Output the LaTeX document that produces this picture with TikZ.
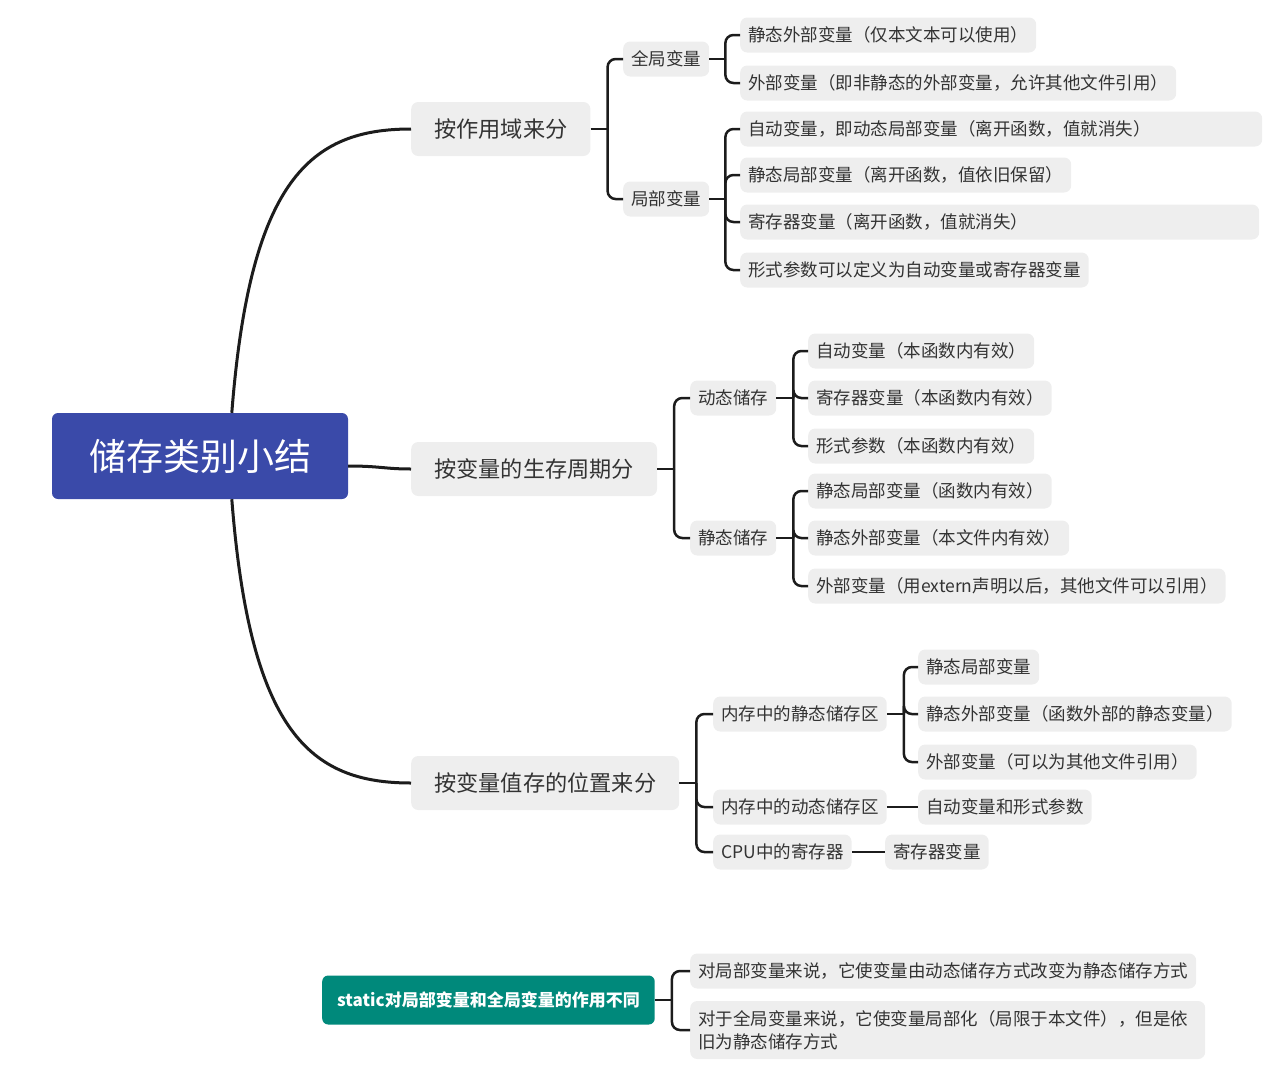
\documentclass[tikz,border=0pt]{standalone}
\usepackage{fontspec}
\setmainfont{Noto Sans CJK SC}
\usetikzlibrary{calc}
\definecolor{rootblue}{HTML}{3A4AA9}
\definecolor{notegreen}{HTML}{00897B}
\definecolor{boxgray}{HTML}{EEEEEE}
\definecolor{inkgray}{HTML}{333333}
\definecolor{linegray}{HTML}{1C1C1C}

\begin{document}
\begin{tikzpicture}[x=1pt, y=-1pt,
    leaf/.style={fill=boxgray, text=inkgray, rounded corners=7pt, inner xsep=8pt, inner ysep=0pt,
      minimum height=35pt, anchor=west, font=\fontsize{17.5}{20}\selectfont},
    topic/.style={leaf, inner xsep=23pt, minimum height=54pt, font=\fontsize{22.2}{26}\selectfont},
    rootnode/.style={fill=rootblue, text=white, rounded corners=6pt, minimum width=296pt,
      minimum height=86pt, font=\fontsize{37}{40}\selectfont},
    note/.style={fill=notegreen, text=white, rounded corners=6pt, inner xsep=15pt,
      minimum height=49pt, anchor=west, font=\bfseries\fontsize{17}{19}\selectfont},
    link/.style={draw=linegray, line width=2.5pt, rounded corners=8pt},
    curve/.style={draw=linegray, line width=3pt}]
        \useasboundingbox (0,0) rectangle (1278,1077);

        \node[rootnode] (root) at (200,456) {储存类别小结};
        \node[topic] (scope) at (411,129) {按作用域来分};
        \node[topic] (life) at (411,469) {按变量的生存周期分};
        \node[topic] (place) at (411,783) {按变量值存的位置来分};

        % by scope
        \node[leaf] (glob) at (623,59) {全局变量};
        \node[leaf] (loc) at (623,199) {局部变量};
        \node[leaf] (glob1) at (740,35) {静态外部变量（仅本文本可以使用）};
        \node[leaf] (glob2) at (740,83) {外部变量（即非静态的外部变量，允许其他文件引用）};
        \node[leaf, text width=506pt, align=left] (loc1) at (740,129) {自动变量，即动态局部变量（离开函数，值就消失）};
        \node[leaf] (loc2) at (740,175) {静态局部变量（离开函数，值依旧保留）};
        \node[leaf, text width=503pt, align=left] (loc3) at (740,222) {寄存器变量（离开函数，值就消失）};
        \node[leaf] (loc4) at (740,270) {形式参数可以定义为自动变量或寄存器变量};

        % by lifetime
        \node[leaf] (dyn) at (690,398) {动态储存};
        \node[leaf] (stat) at (690,538) {静态储存};
        \node[leaf] (dyn1) at (808,351) {自动变量（本函数内有效）};
        \node[leaf] (dyn2) at (808,398) {寄存器变量（本函数内有效）};
        \node[leaf] (dyn3) at (808,446) {形式参数（本函数内有效）};
        \node[leaf] (stat1) at (808,491) {静态局部变量（函数内有效）};
        \node[leaf] (stat2) at (808,538) {静态外部变量（本文件内有效）};
        \node[leaf] (stat3) at (808,586) {外部变量（用extern声明以后，其他文件可以引用）};

        % by place
        \node[leaf] (mstat) at (713,714) {内存中的静态储存区};
        \node[leaf] (mdyn) at (713,807) {内存中的动态储存区};
        \node[leaf] (cpu) at (713,852) {CPU中的寄存器};
        \node[leaf] (mstat1) at (918,667) {静态局部变量};
        \node[leaf] (mstat2) at (918,714) {静态外部变量（函数外部的静态变量）};
        \node[leaf] (mstat3) at (918,762) {外部变量（可以为其他文件引用）};
        \node[leaf] (mdyn1) at (918,807) {自动变量和形式参数};
        \node[leaf] (cpu1) at (885,852) {寄存器变量};

        % static note
        \node[note] (static) at (322,1000) {static对局部变量和全局变量的作用不同};
        \node[leaf] (note1) at (690,971) {对局部变量来说，它使变量由动态储存方式改变为静态储存方式};
        \node[leaf, text width=499pt, align=left, minimum height=58pt, font=\fontsize{17.5}{23}\selectfont] (note2)
          at (690,1030) {对于全局变量来说，它使变量局部化（局限于本文件），但是依\\旧为静态储存方式};

        % main branches
        \draw[curve] ($(root.north west)+(180,0)$) .. controls (250,180) and (310,129) .. (scope.west);
        \draw[curve] ($(root.east)+(0,10)$) .. controls (380,466) and (385,469) .. (life.west);
        \draw[curve] ($(root.south west)+(180,0)$) .. controls (250,732) and (310,783) .. (place.west);

        % brackets
        \draw[link] (scope.east) -- ++(17,0) coordinate (b1);
        \foreach \c in {glob,loc} \draw[link] (b1) |- (\c.west);
        \draw[link] (glob.east) -- ++(16,0) coordinate (b2);
        \foreach \c in {glob1,glob2} \draw[link] (b2) |- (\c.west);
        \draw[link] (loc.east) -- ++(16,0) coordinate (b3);
        \foreach \c in {loc1,loc2,loc3,loc4} \draw[link] (b3) |- (\c.west);

        \draw[link] (life.east) -- ++(17,0) coordinate (b4);
        \foreach \c in {dyn,stat} \draw[link] (b4) |- (\c.west);
        \draw[link] (dyn.east) -- ++(17,0) coordinate (b5);
        \foreach \c in {dyn1,dyn2,dyn3} \draw[link] (b5) |- (\c.west);
        \draw[link] (stat.east) -- ++(17,0) coordinate (b6);
        \foreach \c in {stat1,stat2,stat3} \draw[link] (b6) |- (\c.west);

        \draw[link] (place.east) -- ++(17,0) coordinate (b7);
        \foreach \c in {mstat,mdyn,cpu} \draw[link] (b7) |- (\c.west);
        \draw[link] (mstat.east) -- ++(17,0) coordinate (b8);
        \foreach \c in {mstat1,mstat2,mstat3} \draw[link] (b8) |- (\c.west);
        \draw[link] (mdyn.east) -- (mdyn1.west);
        \draw[link] (cpu.east) -- (cpu1.west);

        \draw[link] (static.east) -- ++(17,0) coordinate (b9);
        \foreach \c in {note1,note2} \draw[link] (b9) |- (\c.west);
\end{tikzpicture}
\end{document}
